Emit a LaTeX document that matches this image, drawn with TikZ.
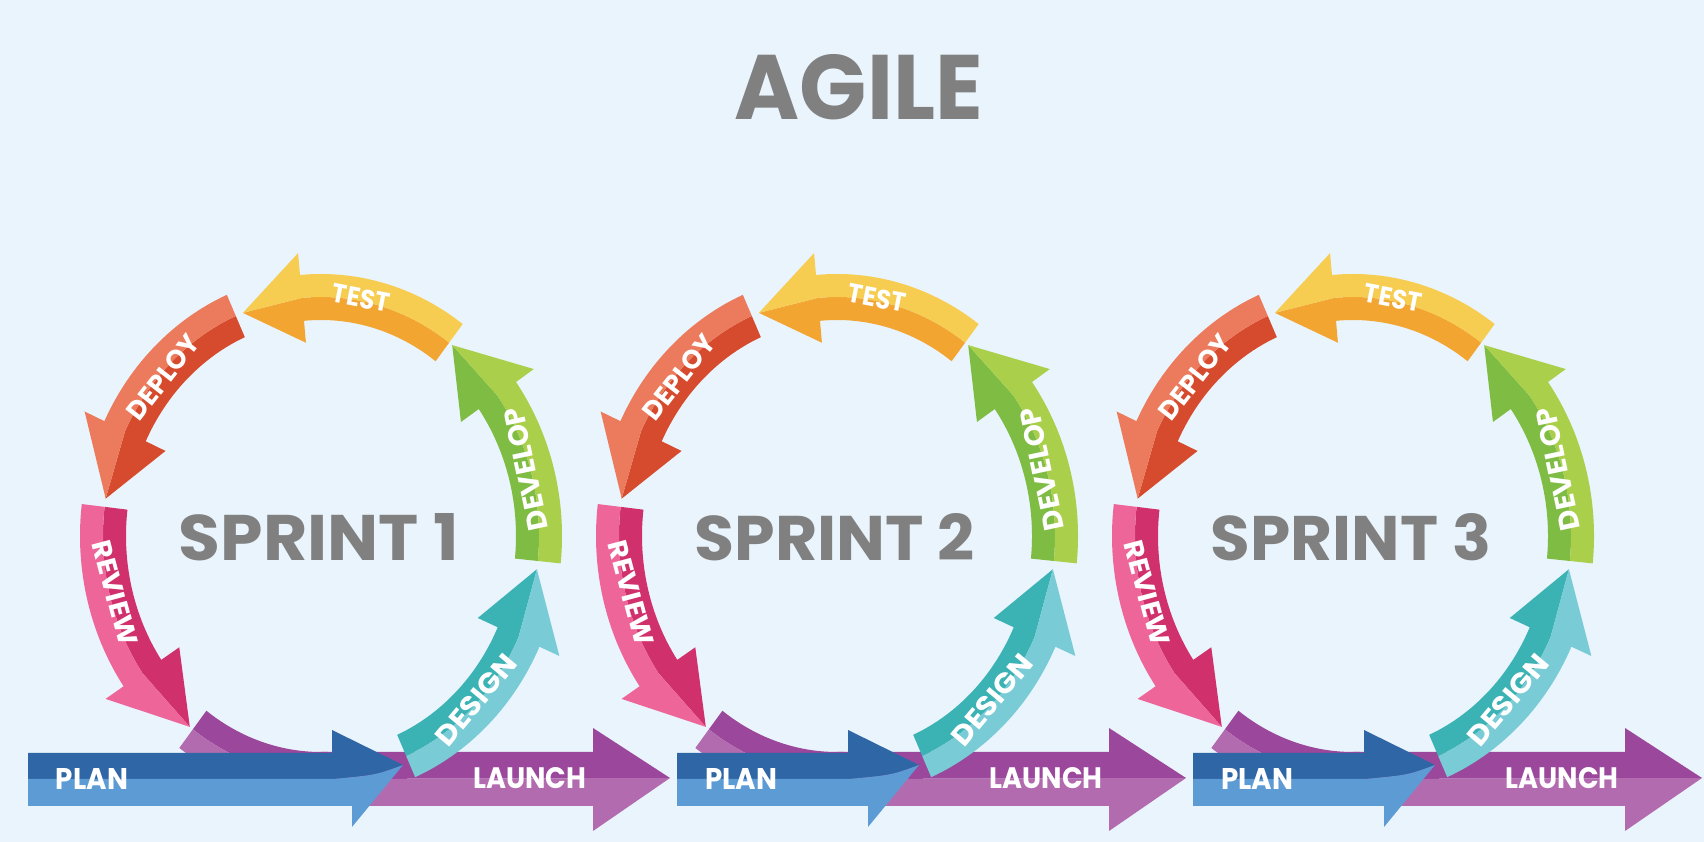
\documentclass[tikz,border=0pt]{standalone}
\usepackage{fontspec}
\usepackage{graphicx}
\newfontfamily\heavy{Poppins}
\definecolor{bg}{HTML}{E9F4FC}
\definecolor{titlegrey}{HTML}{808080}
\definecolor{designD}{HTML}{3BB2B3}
\definecolor{designL}{HTML}{79CBD6}
\definecolor{developD}{HTML}{7EBC43}
\definecolor{developL}{HTML}{AACF4A}
\definecolor{testD}{HTML}{F2A531}
\definecolor{testL}{HTML}{F6CD51}
\definecolor{deployD}{HTML}{D64B2D}
\definecolor{deployL}{HTML}{EC7B5D}
\definecolor{reviewD}{HTML}{D0306B}
\definecolor{reviewL}{HTML}{EE6699}
\definecolor{launchD}{HTML}{9B479C}
\definecolor{launchL}{HTML}{B26BAF}
\definecolor{planD}{HTML}{2F66A6}
\definecolor{planL}{HTML}{5D9BD5}
\newcommand{\fitw}[3]{\resizebox{#1pt}{#2pt}{\heavy\bfseries #3}}
\tikzset{
  lbl/.style={text=white, inner sep=0pt, anchor=center},
  ttl/.style={text=titlegrey, inner sep=0pt, anchor=center},
}
% ring segment: tail, base, tip, light, dark
\newcommand{\ringseg}[5]{%
  \fill[#5] (#1:195 and 216) arc[start angle=#1,end angle=#2,x radius=195,y radius=216]
    -- (#2:173 and 194) -- (#3:218 and 239) -- (#2:218 and 239)
    arc[start angle=#2,end angle=#1,x radius=218,y radius=239] -- cycle;
  \fill[#4] (#1:241 and 262) arc[start angle=#1,end angle=#2,x radius=241,y radius=262]
    -- (#2:263 and 284) -- (#3:218 and 239) -- (#2:218 and 239)
    arc[start angle=#2,end angle=#1,x radius=218,y radius=239] -- cycle;
}
\newcommand{\sprint}[3]{%
\begin{scope}[shift={(#1,306)}]
  % launch arrow
  \fill[launchD] (0,-243) -- (0,-216) -- (272,-216) -- (272,-192) -- (349,-242) -- cycle;
  \fill[launchL] (0,-243) -- (349,-242) -- (272,-295) -- (272,-270) -- (0,-270) -- cycle;
  % purple arc into launch
  \fill[launchD] (234:195 and 216) arc[start angle=234,end angle=272,x radius=195,y radius=216]
    -- (272:218 and 239) arc[start angle=272,end angle=234,x radius=218,y radius=239] -- cycle;
  \fill[launchL] (234:241 and 262) arc[start angle=234,end angle=272,x radius=241,y radius=262]
    -- (272:218 and 239) arc[start angle=272,end angle=234,x radius=218,y radius=239] -- cycle;
  % plan arrow
  \fill[planD] (#3,-243) -- (#3,-217) -- (11,-217) -- (11,-194) -- (82,-229)
    .. controls (55,-239) .. (12,-243) -- cycle;
  \fill[planL] (#3,-243) -- (12,-243) .. controls (55,-239) .. (82,-229)
    -- (31,-291) -- (31,-270) -- (#3,-270) -- cycle;
  % ring
  \ringseg{-67}{-25}{-8}{designL}{designD}
  \ringseg{-6}{36}{53}{developL}{developD}
  \ringseg{54}{95}{111}{testL}{testD}
  \ringseg{113}{154}{171}{deployL}{deployD}
  \ringseg{173}{215}{233}{reviewL}{reviewD}
  % labels
  \node[lbl, rotate=-11] (s#2test) at (40,238) {\fitw{58}{19}{TEST}};
  \node[lbl, rotate=52] (s#2deploy) at (-158,159) {\fitw{100}{19}{DEPLOY}};
  \node[lbl, rotate=-75] (s#2review) at (-206,-57) {\fitw{108}{19}{REVIEW}};
  \node[lbl, rotate=102] (s#2develop) at (205,67) {\fitw{125}{20}{DEVELOP}};
  \node[lbl, rotate=50] (s#2design) at (155,-164) {\fitw{110}{20}{DESIGN}};
  \node[lbl] (s#2plan) at ({#3+64},-243) {\fitw{72}{21}{PLAN}};
  \node[lbl] (s#2launch) at (209,-242) {\fitw{113}{21}{LAUNCH}};
  \node[ttl] (s#2title) at (-2,-1) {\fitw{280}{47}{SPRINT #2}};
\end{scope}}
\begin{document}
\begin{tikzpicture}[x=1pt,y=1pt]
  \fill[bg] (0,0) rectangle (1704,842);
  \useasboundingbox (0,0) rectangle (1704,842);
  \node[ttl] (agile) at (859,754.5) {\fitw{248}{65}{AGILE}};
  \sprint{321}{1}{-293}
  \sprint{837}{2}{-160}
  \sprint{1353}{3}{-160}
\end{tikzpicture}
\end{document}
